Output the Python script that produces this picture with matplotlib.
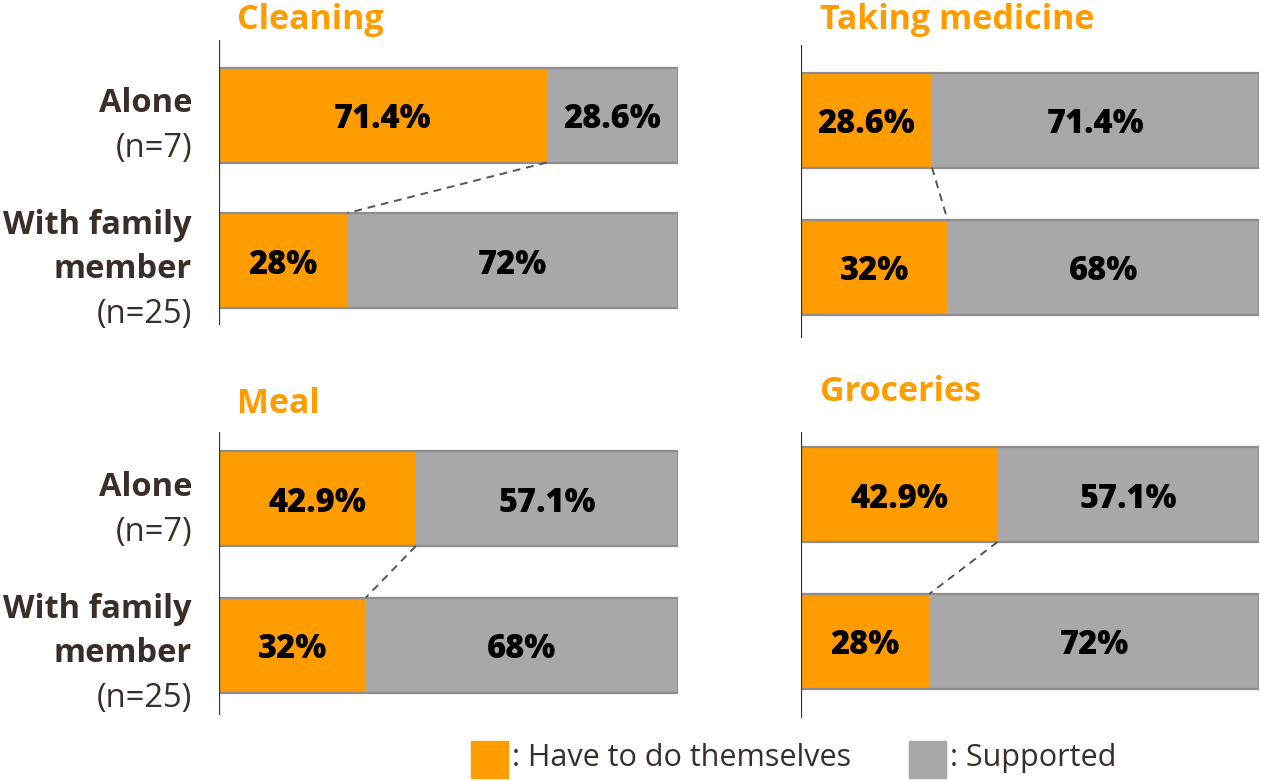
import matplotlib
matplotlib.use("Agg")
import matplotlib.pyplot as plt
from matplotlib.patches import Rectangle

plt.rcParams['font.family'] = ['Open Sans', 'DejaVu Sans']

# donnees : part "a faire soi-meme" (orange) et "aide" (gris) par tache
taches = ["Cleaning", "Taking medicine", "Meal", "Groceries"]
seul = [71.4, 28.6, 42.9, 42.9]
seul_aide = [28.6, 71.4, 57.1, 57.1]
famille = [28, 32, 32, 28]
famille_aide = [72, 68, 68, 72]
lbl_seul = ["71.4%", "28.6%", "42.9%", "42.9%"]
lbl_seul_aide = ["28.6%", "71.4%", "57.1%", "57.1%"]
lbl_famille = ["28%", "32%", "32%", "28%"]
lbl_famille_aide = ["72%", "68%", "68%", "72%"]

ORANGE = "#FF9C00"
GRIS = "#A8A8AB"
BORD = "#8E8E91"
BRUN = "#3A2E28"

W, H = 1261, 781
fig = plt.figure(figsize=(W / 100, H / 100), dpi=100)

# positions en pixels : gauche, haut de l'axe, bas de l'axe, centre barre 1, centre barre 2, largeur
cadres = [
    (219, 40, 325, 115, 260.5, 459),
    (801, 45, 338, 120, 267.5, 458),
    (219, 432, 715, 498.5, 645, 459),
    (801, 432, 718, 494.5, 641.5, 458),
]
titres_xy = [(237, 20), (820, 20), (237, 404), (820, 392)]
hauteur_px = 95


def px_axes(x0, y0, x1, y1):
    return fig.add_axes([x0 / W, 1 - y1 / H, (x1 - x0) / W, (y1 - y0) / H])


for i in range(4):
    x0, yt, yb, c1, c2, larg = cadres[i]
    ax = px_axes(x0, yt, x0 + larg, yb)
    pas = c2 - c1
    ax.set_xlim(0, 100)
    ax.set_ylim(1 + (yb - c2) / pas, -(c1 - yt) / pas)
    h = hauteur_px / pas
    dy = 4 / pas  # texte un peu sous le centre de la barre
    ax.axis("off")
    ax.axvline(0, color=BRUN, lw=1.6, zorder=5)

    lignes = [(0, seul[i], seul_aide[i], lbl_seul[i], lbl_seul_aide[i]),
              (1, famille[i], famille_aide[i], lbl_famille[i], lbl_famille_aide[i])]
    for y, a, b, la, lb in lignes:
        ax.barh(y, a, height=h, color=ORANGE, edgecolor="none")
        ax.barh(y, b, left=a, height=h, color=GRIS, edgecolor="none")
        ax.add_patch(Rectangle((0, y - h / 2), a + b, h, fill=False,
                               edgecolor=BORD, lw=1.6, zorder=3))
        ax.text(a / 2, y + dy, la, ha="center", va="center", fontsize=23.5,
                fontweight=800, color="black")
        ax.text(a + b / 2, y + dy, lb, ha="center", va="center", fontsize=23.5,
                fontweight=800, color="black")

    # trait pointille entre les deux fins de barre orange
    ax.plot([seul[i], famille[i]], [h / 2, 1 - h / 2], ls=(0, (4, 3)),
            color="#555555", lw=1.4, zorder=4)

    tx, ty = titres_xy[i]
    fig.text(tx / W, 1 - ty / H, taches[i], ha="left", va="center",
             fontsize=24.5, fontweight="bold", color=ORANGE)

# etiquettes de lignes a gauche
for base in (0, 383):
    fig.text(192 / W, 1 - (104 + base) / H, "Alone", ha="right", va="center",
             fontsize=23.5, fontweight="bold", color=BRUN)
    fig.text(192 / W, 1 - (149 + base) / H, "(n=7)", ha="right", va="center",
             fontsize=23.5, color=BRUN)
    fig.text(192 / W, 1 - (226 + base) / H, "With family", ha="right", va="center",
             fontsize=23.5, fontweight="bold", color=BRUN)
    fig.text(192 / W, 1 - (270 + base) / H, "member", ha="right", va="center",
             fontsize=23.5, fontweight="bold", color=BRUN)
    fig.text(192 / W, 1 - (315 + base) / H, "(n=25)", ha="right", va="center",
             fontsize=23.5, color=BRUN)

# legende
leg = px_axes(0, 0, W, H)
leg.set_xlim(0, W)
leg.set_ylim(H, 0)
leg.axis("off")
leg.add_patch(Rectangle((471, 741), 37, 37, color=ORANGE))
leg.add_patch(Rectangle((909, 741), 37, 37, color=GRIS))
leg.text(512, 758, ": Have to do themselves", ha="left", va="center",
         fontsize=22, color=BRUN)
leg.text(950, 758, ": Supported", ha="left", va="center",
         fontsize=22, color=BRUN)

fig.savefig("out.png", dpi=100)
